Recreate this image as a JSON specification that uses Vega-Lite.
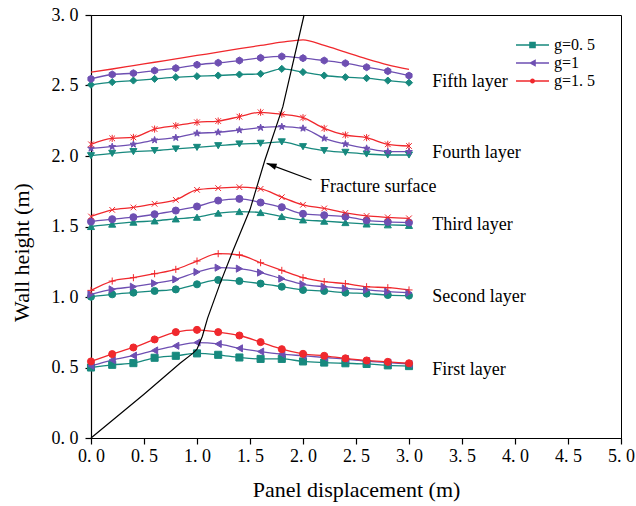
{
  "$schema": "https://vega.github.io/schema/vega-lite/v6.json",
  "width": 530,
  "height": 423,
  "padding": {"left": 91, "top": 15, "right": 15, "bottom": 68},
  "autosize": {"type": "none"},
  "background": "white",
  "config": {
    "font": "Liberation Serif",
    "view": {"stroke": "black", "strokeWidth": 1},
    "axis": {"grid": false, "labelFlush": false, "labelOverlap": false, "domainColor": "black", "tickColor": "black", "labelColor": "black", "titleColor": "black", "labelFont": "Liberation Serif", "titleFont": "Liberation Serif", "titleFontWeight": "normal", "labelFontSize": 18, "titleFontSize": 22, "tickSize": 6, "domainWidth": 1.2, "tickWidth": 1.2}
  },
  "datasets": {
    "curves": [
      {"l":1,"g":"g=0. 5","m":"sq","x":0,"y":0.5},{"l":1,"g":"g=0. 5","m":"sq","x":0.2,"y":0.519},{"l":1,"g":"g=0. 5","m":"sq","x":0.4,"y":0.531},{"l":1,"g":"g=0. 5","m":"sq","x":0.6,"y":0.569},{"l":1,"g":"g=0. 5","m":"sq","x":0.8,"y":0.583},{"l":1,"g":"g=0. 5","m":"sq","x":1.0,"y":0.6},{"l":1,"g":"g=0. 5","m":"sq","x":1.2,"y":0.59},{"l":1,"g":"g=0. 5","m":"sq","x":1.4,"y":0.571},{"l":1,"g":"g=0. 5","m":"sq","x":1.6,"y":0.561},{"l":1,"g":"g=0. 5","m":"sq","x":1.8,"y":0.561},{"l":1,"g":"g=0. 5","m":"sq","x":2.0,"y":0.543},{"l":1,"g":"g=0. 5","m":"sq","x":2.2,"y":0.535},{"l":1,"g":"g=0. 5","m":"sq","x":2.4,"y":0.53},{"l":1,"g":"g=0. 5","m":"sq","x":2.6,"y":0.525},{"l":1,"g":"g=0. 5","m":"sq","x":2.8,"y":0.515},{"l":1,"g":"g=0. 5","m":"sq","x":3.0,"y":0.51},
      {"l":1,"g":"g=1","m":"tl","x":0,"y":0.512},{"l":1,"g":"g=1","m":"tl","x":0.2,"y":0.553},{"l":1,"g":"g=1","m":"tl","x":0.4,"y":0.584},{"l":1,"g":"g=1","m":"tl","x":0.6,"y":0.621},{"l":1,"g":"g=1","m":"tl","x":0.8,"y":0.654},{"l":1,"g":"g=1","m":"tl","x":1.0,"y":0.677},{"l":1,"g":"g=1","m":"tl","x":1.2,"y":0.667},{"l":1,"g":"g=1","m":"tl","x":1.4,"y":0.636},{"l":1,"g":"g=1","m":"tl","x":1.6,"y":0.613},{"l":1,"g":"g=1","m":"tl","x":1.8,"y":0.595},{"l":1,"g":"g=1","m":"tl","x":2.0,"y":0.583},{"l":1,"g":"g=1","m":"tl","x":2.2,"y":0.571},{"l":1,"g":"g=1","m":"tl","x":2.4,"y":0.56},{"l":1,"g":"g=1","m":"tl","x":2.6,"y":0.545},{"l":1,"g":"g=1","m":"tl","x":2.8,"y":0.535},{"l":1,"g":"g=1","m":"tl","x":3.0,"y":0.525},
      {"l":1,"g":"g=1. 5","m":"ci","x":0,"y":0.543},{"l":1,"g":"g=1. 5","m":"ci","x":0.2,"y":0.595},{"l":1,"g":"g=1. 5","m":"ci","x":0.4,"y":0.642},{"l":1,"g":"g=1. 5","m":"ci","x":0.6,"y":0.699},{"l":1,"g":"g=1. 5","m":"ci","x":0.8,"y":0.751},{"l":1,"g":"g=1. 5","m":"ci","x":1.0,"y":0.767},{"l":1,"g":"g=1. 5","m":"ci","x":1.2,"y":0.751},{"l":1,"g":"g=1. 5","m":"ci","x":1.4,"y":0.727},{"l":1,"g":"g=1. 5","m":"ci","x":1.6,"y":0.68},{"l":1,"g":"g=1. 5","m":"ci","x":1.8,"y":0.63},{"l":1,"g":"g=1. 5","m":"ci","x":2.0,"y":0.597},{"l":1,"g":"g=1. 5","m":"ci","x":2.2,"y":0.583},{"l":1,"g":"g=1. 5","m":"ci","x":2.4,"y":0.565},{"l":1,"g":"g=1. 5","m":"ci","x":2.6,"y":0.55},{"l":1,"g":"g=1. 5","m":"ci","x":2.8,"y":0.54},{"l":1,"g":"g=1. 5","m":"ci","x":3.0,"y":0.53},
      {"l":2,"g":"g=0. 5","m":"ci","x":0,"y":1.002},{"l":2,"g":"g=0. 5","m":"ci","x":0.2,"y":1.019},{"l":2,"g":"g=0. 5","m":"ci","x":0.4,"y":1.031},{"l":2,"g":"g=0. 5","m":"ci","x":0.6,"y":1.043},{"l":2,"g":"g=0. 5","m":"ci","x":0.8,"y":1.054},{"l":2,"g":"g=0. 5","m":"ci","x":1.0,"y":1.09},{"l":2,"g":"g=0. 5","m":"ci","x":1.2,"y":1.121},{"l":2,"g":"g=0. 5","m":"ci","x":1.4,"y":1.113},{"l":2,"g":"g=0. 5","m":"ci","x":1.6,"y":1.095},{"l":2,"g":"g=0. 5","m":"ci","x":1.8,"y":1.073},{"l":2,"g":"g=0. 5","m":"ci","x":2.0,"y":1.05},{"l":2,"g":"g=0. 5","m":"ci","x":2.2,"y":1.043},{"l":2,"g":"g=0. 5","m":"ci","x":2.4,"y":1.031},{"l":2,"g":"g=0. 5","m":"ci","x":2.6,"y":1.024},{"l":2,"g":"g=0. 5","m":"ci","x":2.8,"y":1.014},{"l":2,"g":"g=0. 5","m":"ci","x":3.0,"y":1.01},
      {"l":2,"g":"g=1","m":"tr","x":0,"y":1.019},{"l":2,"g":"g=1","m":"tr","x":0.2,"y":1.054},{"l":2,"g":"g=1","m":"tr","x":0.4,"y":1.073},{"l":2,"g":"g=1","m":"tr","x":0.6,"y":1.097},{"l":2,"g":"g=1","m":"tr","x":0.8,"y":1.125},{"l":2,"g":"g=1","m":"tr","x":1.0,"y":1.177},{"l":2,"g":"g=1","m":"tr","x":1.2,"y":1.208},{"l":2,"g":"g=1","m":"tr","x":1.4,"y":1.201},{"l":2,"g":"g=1","m":"tr","x":1.6,"y":1.173},{"l":2,"g":"g=1","m":"tr","x":1.8,"y":1.13},{"l":2,"g":"g=1","m":"tr","x":2.0,"y":1.09},{"l":2,"g":"g=1","m":"tr","x":2.2,"y":1.073},{"l":2,"g":"g=1","m":"tr","x":2.4,"y":1.061},{"l":2,"g":"g=1","m":"tr","x":2.6,"y":1.05},{"l":2,"g":"g=1","m":"tr","x":2.8,"y":1.038},{"l":2,"g":"g=1","m":"tr","x":3.0,"y":1.03},
      {"l":2,"g":"g=1. 5","m":"pl","x":0,"y":1.047},{"l":2,"g":"g=1. 5","m":"pl","x":0.2,"y":1.113},{"l":2,"g":"g=1. 5","m":"pl","x":0.4,"y":1.137},{"l":2,"g":"g=1. 5","m":"pl","x":0.6,"y":1.165},{"l":2,"g":"g=1. 5","m":"pl","x":0.8,"y":1.196},{"l":2,"g":"g=1. 5","m":"pl","x":1.0,"y":1.255},{"l":2,"g":"g=1. 5","m":"pl","x":1.2,"y":1.307},{"l":2,"g":"g=1. 5","m":"pl","x":1.4,"y":1.298},{"l":2,"g":"g=1. 5","m":"pl","x":1.6,"y":1.243},{"l":2,"g":"g=1. 5","m":"pl","x":1.8,"y":1.189},{"l":2,"g":"g=1. 5","m":"pl","x":2.0,"y":1.137},{"l":2,"g":"g=1. 5","m":"pl","x":2.2,"y":1.109},{"l":2,"g":"g=1. 5","m":"pl","x":2.4,"y":1.095},{"l":2,"g":"g=1. 5","m":"pl","x":2.6,"y":1.073},{"l":2,"g":"g=1. 5","m":"pl","x":2.8,"y":1.066},{"l":2,"g":"g=1. 5","m":"pl","x":3.0,"y":1.05},
      {"l":3,"g":"g=0. 5","m":"tu","x":0,"y":1.5},{"l":3,"g":"g=0. 5","m":"tu","x":0.2,"y":1.517},{"l":3,"g":"g=0. 5","m":"tu","x":0.4,"y":1.531},{"l":3,"g":"g=0. 5","m":"tu","x":0.6,"y":1.54},{"l":3,"g":"g=0. 5","m":"tu","x":0.8,"y":1.554},{"l":3,"g":"g=0. 5","m":"tu","x":1.0,"y":1.566},{"l":3,"g":"g=0. 5","m":"tu","x":1.2,"y":1.595},{"l":3,"g":"g=0. 5","m":"tu","x":1.4,"y":1.606},{"l":3,"g":"g=0. 5","m":"tu","x":1.6,"y":1.599},{"l":3,"g":"g=0. 5","m":"tu","x":1.8,"y":1.571},{"l":3,"g":"g=0. 5","m":"tu","x":2.0,"y":1.547},{"l":3,"g":"g=0. 5","m":"tu","x":2.2,"y":1.538},{"l":3,"g":"g=0. 5","m":"tu","x":2.4,"y":1.528},{"l":3,"g":"g=0. 5","m":"tu","x":2.6,"y":1.518},{"l":3,"g":"g=0. 5","m":"tu","x":2.8,"y":1.512},{"l":3,"g":"g=0. 5","m":"tu","x":3.0,"y":1.508},
      {"l":3,"g":"g=1","m":"ci","x":0,"y":1.535},{"l":3,"g":"g=1","m":"ci","x":0.2,"y":1.552},{"l":3,"g":"g=1","m":"ci","x":0.4,"y":1.566},{"l":3,"g":"g=1","m":"ci","x":0.6,"y":1.587},{"l":3,"g":"g=1","m":"ci","x":0.8,"y":1.613},{"l":3,"g":"g=1","m":"ci","x":1.0,"y":1.642},{"l":3,"g":"g=1","m":"ci","x":1.2,"y":1.684},{"l":3,"g":"g=1","m":"ci","x":1.4,"y":1.696},{"l":3,"g":"g=1","m":"ci","x":1.6,"y":1.67},{"l":3,"g":"g=1","m":"ci","x":1.8,"y":1.637},{"l":3,"g":"g=1","m":"ci","x":2.0,"y":1.59},{"l":3,"g":"g=1","m":"ci","x":2.2,"y":1.58},{"l":3,"g":"g=1","m":"ci","x":2.4,"y":1.57},{"l":3,"g":"g=1","m":"ci","x":2.6,"y":1.544},{"l":3,"g":"g=1","m":"ci","x":2.8,"y":1.533},{"l":3,"g":"g=1","m":"ci","x":3.0,"y":1.528},
      {"l":3,"g":"g=1. 5","m":"xx","x":0,"y":1.571},{"l":3,"g":"g=1. 5","m":"xx","x":0.2,"y":1.618},{"l":3,"g":"g=1. 5","m":"xx","x":0.4,"y":1.635},{"l":3,"g":"g=1. 5","m":"xx","x":0.6,"y":1.661},{"l":3,"g":"g=1. 5","m":"xx","x":0.8,"y":1.689},{"l":3,"g":"g=1. 5","m":"xx","x":1.0,"y":1.76},{"l":3,"g":"g=1. 5","m":"xx","x":1.2,"y":1.772},{"l":3,"g":"g=1. 5","m":"xx","x":1.4,"y":1.779},{"l":3,"g":"g=1. 5","m":"xx","x":1.6,"y":1.767},{"l":3,"g":"g=1. 5","m":"xx","x":1.8,"y":1.708},{"l":3,"g":"g=1. 5","m":"xx","x":2.0,"y":1.654},{"l":3,"g":"g=1. 5","m":"xx","x":2.2,"y":1.628},{"l":3,"g":"g=1. 5","m":"xx","x":2.4,"y":1.597},{"l":3,"g":"g=1. 5","m":"xx","x":2.6,"y":1.575},{"l":3,"g":"g=1. 5","m":"xx","x":2.8,"y":1.565},{"l":3,"g":"g=1. 5","m":"xx","x":3.0,"y":1.558},
      {"l":4,"g":"g=0. 5","m":"td","x":0,"y":2.002},{"l":4,"g":"g=0. 5","m":"td","x":0.2,"y":2.019},{"l":4,"g":"g=0. 5","m":"td","x":0.4,"y":2.031},{"l":4,"g":"g=0. 5","m":"td","x":0.6,"y":2.038},{"l":4,"g":"g=0. 5","m":"td","x":0.8,"y":2.05},{"l":4,"g":"g=0. 5","m":"td","x":1.0,"y":2.061},{"l":4,"g":"g=0. 5","m":"td","x":1.2,"y":2.073},{"l":4,"g":"g=0. 5","m":"td","x":1.4,"y":2.085},{"l":4,"g":"g=0. 5","m":"td","x":1.6,"y":2.09},{"l":4,"g":"g=0. 5","m":"td","x":1.8,"y":2.1},{"l":4,"g":"g=0. 5","m":"td","x":2.0,"y":2.066},{"l":4,"g":"g=0. 5","m":"td","x":2.2,"y":2.038},{"l":4,"g":"g=0. 5","m":"td","x":2.4,"y":2.026},{"l":4,"g":"g=0. 5","m":"td","x":2.6,"y":2.014},{"l":4,"g":"g=0. 5","m":"td","x":2.8,"y":2.007},{"l":4,"g":"g=0. 5","m":"td","x":3.0,"y":2.007},
      {"l":4,"g":"g=1","m":"st","x":0,"y":2.054},{"l":4,"g":"g=1","m":"st","x":0.2,"y":2.066},{"l":4,"g":"g=1","m":"st","x":0.4,"y":2.083},{"l":4,"g":"g=1","m":"st","x":0.6,"y":2.113},{"l":4,"g":"g=1","m":"st","x":0.8,"y":2.13},{"l":4,"g":"g=1","m":"st","x":1.0,"y":2.161},{"l":4,"g":"g=1","m":"st","x":1.2,"y":2.168},{"l":4,"g":"g=1","m":"st","x":1.4,"y":2.184},{"l":4,"g":"g=1","m":"st","x":1.6,"y":2.201},{"l":4,"g":"g=1","m":"st","x":1.8,"y":2.208},{"l":4,"g":"g=1","m":"st","x":2.0,"y":2.196},{"l":4,"g":"g=1","m":"st","x":2.2,"y":2.125},{"l":4,"g":"g=1","m":"st","x":2.4,"y":2.085},{"l":4,"g":"g=1","m":"st","x":2.6,"y":2.054},{"l":4,"g":"g=1","m":"st","x":2.8,"y":2.031},{"l":4,"g":"g=1","m":"st","x":3.0,"y":2.031},
      {"l":4,"g":"g=1. 5","m":"as","x":0,"y":2.083},{"l":4,"g":"g=1. 5","m":"as","x":0.2,"y":2.125},{"l":4,"g":"g=1. 5","m":"as","x":0.4,"y":2.132},{"l":4,"g":"g=1. 5","m":"as","x":0.6,"y":2.191},{"l":4,"g":"g=1. 5","m":"as","x":0.8,"y":2.215},{"l":4,"g":"g=1. 5","m":"as","x":1.0,"y":2.239},{"l":4,"g":"g=1. 5","m":"as","x":1.2,"y":2.248},{"l":4,"g":"g=1. 5","m":"as","x":1.4,"y":2.279},{"l":4,"g":"g=1. 5","m":"as","x":1.6,"y":2.31},{"l":4,"g":"g=1. 5","m":"as","x":1.8,"y":2.296},{"l":4,"g":"g=1. 5","m":"as","x":2.0,"y":2.272},{"l":4,"g":"g=1. 5","m":"as","x":2.2,"y":2.196},{"l":4,"g":"g=1. 5","m":"as","x":2.4,"y":2.149},{"l":4,"g":"g=1. 5","m":"as","x":2.6,"y":2.13},{"l":4,"g":"g=1. 5","m":"as","x":2.8,"y":2.083},{"l":4,"g":"g=1. 5","m":"as","x":3.0,"y":2.071},
      {"l":5,"g":"g=0. 5","m":"di","x":0,"y":2.505},{"l":5,"g":"g=0. 5","m":"di","x":0.2,"y":2.524},{"l":5,"g":"g=0. 5","m":"di","x":0.4,"y":2.535},{"l":5,"g":"g=0. 5","m":"di","x":0.6,"y":2.547},{"l":5,"g":"g=0. 5","m":"di","x":0.8,"y":2.559},{"l":5,"g":"g=0. 5","m":"di","x":1.0,"y":2.566},{"l":5,"g":"g=0. 5","m":"di","x":1.2,"y":2.571},{"l":5,"g":"g=0. 5","m":"di","x":1.4,"y":2.578},{"l":5,"g":"g=0. 5","m":"di","x":1.6,"y":2.583},{"l":5,"g":"g=0. 5","m":"di","x":1.8,"y":2.618},{"l":5,"g":"g=0. 5","m":"di","x":2.0,"y":2.595},{"l":5,"g":"g=0. 5","m":"di","x":2.2,"y":2.571},{"l":5,"g":"g=0. 5","m":"di","x":2.4,"y":2.559},{"l":5,"g":"g=0. 5","m":"di","x":2.6,"y":2.552},{"l":5,"g":"g=0. 5","m":"di","x":2.8,"y":2.535},{"l":5,"g":"g=0. 5","m":"di","x":3.0,"y":2.52},
      {"l":5,"g":"g=1","m":"hx","x":0,"y":2.547},{"l":5,"g":"g=1","m":"hx","x":0.2,"y":2.578},{"l":5,"g":"g=1","m":"hx","x":0.4,"y":2.587},{"l":5,"g":"g=1","m":"hx","x":0.6,"y":2.606},{"l":5,"g":"g=1","m":"hx","x":0.8,"y":2.623},{"l":5,"g":"g=1","m":"hx","x":1.0,"y":2.647},{"l":5,"g":"g=1","m":"hx","x":1.2,"y":2.661},{"l":5,"g":"g=1","m":"hx","x":1.4,"y":2.677},{"l":5,"g":"g=1","m":"hx","x":1.6,"y":2.696},{"l":5,"g":"g=1","m":"hx","x":1.8,"y":2.706},{"l":5,"g":"g=1","m":"hx","x":2.0,"y":2.694},{"l":5,"g":"g=1","m":"hx","x":2.2,"y":2.677},{"l":5,"g":"g=1","m":"hx","x":2.4,"y":2.658},{"l":5,"g":"g=1","m":"hx","x":2.6,"y":2.63},{"l":5,"g":"g=1","m":"hx","x":2.8,"y":2.602},{"l":5,"g":"g=1","m":"hx","x":3.0,"y":2.57},
      {"l":5,"g":"g=1. 5","m":"none","x":0,"y":2.595},{"l":5,"g":"g=1. 5","m":"none","x":0.2,"y":2.617},{"l":5,"g":"g=1. 5","m":"none","x":0.4,"y":2.641},{"l":5,"g":"g=1. 5","m":"none","x":0.6,"y":2.665},{"l":5,"g":"g=1. 5","m":"none","x":0.8,"y":2.689},{"l":5,"g":"g=1. 5","m":"none","x":1.0,"y":2.713},{"l":5,"g":"g=1. 5","m":"none","x":1.2,"y":2.736},{"l":5,"g":"g=1. 5","m":"none","x":1.4,"y":2.761},{"l":5,"g":"g=1. 5","m":"none","x":1.6,"y":2.784},{"l":5,"g":"g=1. 5","m":"none","x":1.8,"y":2.807},{"l":5,"g":"g=1. 5","m":"none","x":2.0,"y":2.824},{"l":5,"g":"g=1. 5","m":"none","x":2.2,"y":2.784},{"l":5,"g":"g=1. 5","m":"none","x":2.4,"y":2.736},{"l":5,"g":"g=1. 5","m":"none","x":2.6,"y":2.689},{"l":5,"g":"g=1. 5","m":"none","x":2.8,"y":2.647},{"l":5,"g":"g=1. 5","m":"none","x":3.0,"y":2.615}
    ],
    "fracture": [
      {"x":0,"y":0},{"x":0.5,"y":0.31},{"x":0.84,"y":0.53},{"x":0.96,"y":0.6},{"x":1.0,"y":0.63},{"x":1.05,"y":0.72},{"x":1.1,"y":0.85},{"x":1.22,"y":1.1},{"x":1.34,"y":1.33},{"x":1.5,"y":1.62},{"x":1.64,"y":1.97},{"x":1.81,"y":2.35},{"x":2.01,"y":3.0}
    ],
    "labels": [
      {"x":3.22,"y":2.525,"t":"Fifth layer"},{"x":3.22,"y":2.019,"t":"Fourth layer"},{"x":3.22,"y":1.511,"t":"Third layer"},{"x":3.22,"y":0.998,"t":"Second layer"},{"x":3.22,"y":0.482,"t":"First layer"},{"x":2.16,"y":1.78,"t":"Fracture surface"}
    ],
    "arrow": [{"x":2.08,"y":1.83,"x2":1.657,"y2":1.948}]
  },
  "layer": [
    {
      "data": {"name": "curves"},
      "mark": {"type": "line", "strokeWidth": 1.3, "interpolate": "monotone"},
      "encoding": {
        "x": {"field": "x", "type": "quantitative", "scale": {"domain": [0, 5], "nice": false}, "axis": {"values": [0,0.5,1,1.5,2,2.5,3,3.5,4,4.5,5], "labelExpr": "replace(format(datum.value,'.1f'),'.','. ')", "title": "Panel displacement (m)", "labelPadding": 3, "titlePadding": 14}},
        "y": {"field": "y", "type": "quantitative", "scale": {"domain": [0, 3], "nice": false}, "axis": {"values": [0,0.5,1,1.5,2,2.5,3], "labelExpr": "replace(format(datum.value,'.1f'),'.','. ')", "title": "Wall height (m)", "labelPadding": 7, "titlePadding": 18, "titleY": 237}},
        "color": {"field": "g", "type": "nominal", "scale": {"domain": ["g=0. 5", "g=1", "g=1. 5"], "range": ["#17897e", "#6e4fb2", "#f0282d"]},
          "legend": {"title": null, "orient": "none", "legendX": 425, "legendY": 21, "labelFontSize": 16, "labelFont": "Liberation Serif", "labelColor": "black", "symbolSize": 1089, "labelOffset": 5, "rowPadding": 0, "clipHeight": 18, "symbolStrokeWidth": 0, "symbolType": "M-1,-0.04H1V0.04H-1Z",
          "encode": {"symbols": {"update": {"fill": {"scale": "color", "field": "value"}, "strokeWidth": {"value": 0}, "shape": {"signal": "datum.value == 'g=0. 5' ? 'M-1,-0.04H1V0.04H-1Z M-0.2,-0.2H0.2V0.2H-0.2Z' : datum.value == 'g=1' ? 'M-1,-0.04H1V0.04H-1Z M-0.22,0L0.2,-0.22L0.2,0.22Z' : 'M-1,-0.04H1V0.04H-1Z M-0.15,0A0.15,0.15 0 1,1 0.15,0A0.15,0.15 0 1,1 -0.15,0Z'"}}}}}},
        "detail": {"field": "l"}
      }
    },
    {
      "data": {"name": "curves"},
      "transform": [{"filter": "datum.m != 'none'"}],
      "mark": {"type": "point", "filled": true, "size": 50, "strokeWidth": 1, "opacity": 1},
      "encoding": {
        "x": {"field": "x", "type": "quantitative"},
        "y": {"field": "y", "type": "quantitative"},
        "color": {"field": "g", "type": "nominal"},
        "stroke": {"field": "g", "type": "nominal", "scale": {"domain": ["g=0. 5", "g=1", "g=1. 5"], "range": ["#17897e", "#6e4fb2", "#f0282d"]}, "legend": null},
        "shape": {"field": "m", "type": "nominal", "legend": null, "scale": {
          "domain": ["sq", "tl", "ci", "tr", "pl", "tu", "xx", "td", "st", "as", "di", "hx"],
          "range": ["square", "triangle-left", "circle", "triangle-right", "M-1,0H1M0,-1V1", "triangle-up", "M-0.8,-0.8L0.8,0.8M-0.8,0.8L0.8,-0.8", "triangle-down", "M0,-1L0.235,-0.324L0.951,-0.309L0.38,0.124L0.588,0.809L0,0.4L-0.588,0.809L-0.38,0.124L-0.951,-0.309L-0.235,-0.324Z", "M-0.8,-0.8L0.8,0.8M-0.8,0.8L0.8,-0.8M0,-1V1", "diamond", "M0,-1L0.866,-0.5L0.866,0.5L0,1L-0.866,0.5L-0.866,-0.5Z"]}}
      }
    },
    {
      "data": {"name": "fracture"},
      "mark": {"type": "line", "color": "black", "strokeWidth": 1.2},
      "encoding": {"x": {"field": "x", "type": "quantitative"}, "y": {"field": "y", "type": "quantitative"}}
    },
    {
      "data": {"name": "arrow"},
      "mark": {"type": "rule", "color": "black", "strokeWidth": 1.2},
      "encoding": {"x": {"field": "x", "type": "quantitative"}, "y": {"field": "y", "type": "quantitative"}, "x2": {"field": "x2"}, "y2": {"field": "y2"}}
    },
    {
      "data": {"name": "arrow"},
      "mark": {"type": "point", "filled": true, "color": "black", "opacity": 1, "shape": "M0,0L0.5,1.6L-0.5,1.6Z", "size": 156, "angle": 290},
      "encoding": {"x": {"field": "x2", "type": "quantitative"}, "y": {"field": "y2", "type": "quantitative"}}
    },
    {
      "data": {"name": "labels"},
      "mark": {"type": "text", "align": "left", "baseline": "middle", "fontSize": 18, "font": "Liberation Serif", "color": "black"},
      "encoding": {"x": {"field": "x", "type": "quantitative"}, "y": {"field": "y", "type": "quantitative"}, "text": {"field": "t"}}
    }
  ]
}
